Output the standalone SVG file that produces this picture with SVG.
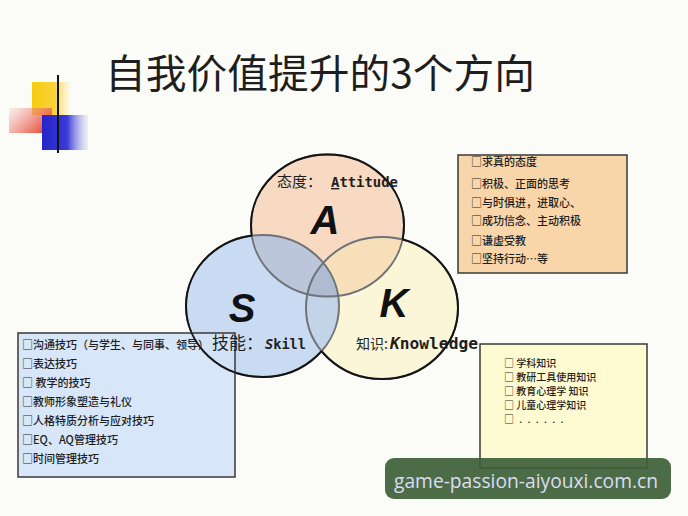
<svg xmlns="http://www.w3.org/2000/svg" width="688" height="516" viewBox="0 0 688 516">
<defs>
<linearGradient id="gY" x1="0" y1="0" x2="1" y2="0"><stop offset="0" stop-color="#f7cc10"/><stop offset="0.6" stop-color="#f9d23a"/><stop offset="1" stop-color="#fce9a0" stop-opacity="0.2"/></linearGradient>
<linearGradient id="gR" x1="0" y1="0" x2="1" y2="0.6"><stop offset="0" stop-color="#f3a0a0" stop-opacity="0.15"/><stop offset="0.6" stop-color="#ec7a6c" stop-opacity="0.75"/><stop offset="1" stop-color="#e8503a"/></linearGradient>
<linearGradient id="gB" x1="0" y1="0" x2="1" y2="0"><stop offset="0" stop-color="#2424c8"/><stop offset="0.55" stop-color="#3a3ad8"/><stop offset="1" stop-color="#b8b8f0" stop-opacity="0.2"/></linearGradient>
<linearGradient id="gL" x1="0" y1="0" x2="1" y2="0"><stop offset="0" stop-color="#111"/><stop offset="0.3" stop-color="#555"/><stop offset="0.8" stop-color="#b8bcc4"/><stop offset="0.92" stop-color="#f0c8c8"/><stop offset="1" stop-color="#fafafa" stop-opacity="0"/></linearGradient>
<clipPath id="cA"><ellipse cx="327.5" cy="225.5" rx="76.5" ry="71"/></clipPath>
<clipPath id="cS"><ellipse cx="262.5" cy="306" rx="76.5" ry="71"/></clipPath>
<clipPath id="cK"><ellipse cx="382" cy="308" rx="76" ry="71"/></clipPath>
<clipPath id="cBox"><rect x="18" y="333" width="217" height="144"/></clipPath>
<mask id="mA" maskUnits="userSpaceOnUse" x="0" y="0" width="688" height="516"><rect width="688" height="516" fill="#fff"/><ellipse cx="262.5" cy="306" rx="76.5" ry="71" fill="#000"/><ellipse cx="382" cy="308" rx="76" ry="71" fill="#000"/></mask>
<mask id="mS" maskUnits="userSpaceOnUse" x="0" y="0" width="688" height="516"><rect width="688" height="516" fill="#fff"/><ellipse cx="327.5" cy="225.5" rx="76.5" ry="71" fill="#000"/><ellipse cx="382" cy="308" rx="76" ry="71" fill="#000"/></mask>
<mask id="mK" maskUnits="userSpaceOnUse" x="0" y="0" width="688" height="516"><rect width="688" height="516" fill="#fff"/><ellipse cx="327.5" cy="225.5" rx="76.5" ry="71" fill="#000"/><ellipse cx="262.5" cy="306" rx="76.5" ry="71" fill="#000"/></mask>
</defs>
<style>
.cjk{font-family:"Noto Sans CJK SC","Noto Sans",sans-serif;fill:#1e1e1e}
.item{font-size:11px;font-weight:500}
.small{font-size:10px;font-weight:500}
.big{font-family:"Liberation Sans",Arial,sans-serif;font-weight:bold;font-style:italic;font-size:40px;fill:#111;text-anchor:middle}
.mono{font-family:"DejaVu Sans Mono","Liberation Mono",monospace;font-weight:bold;fill:#1e1e1e}
.box{stroke:#3a3a3a;stroke-width:1.5}
.inner{fill:none;stroke:#6f7378;stroke-width:2}
.outer{fill:none;stroke:#141414;stroke-width:2}
</style>
<rect width="688" height="516" fill="#fbfcf7"/>

<g id="decoration">
<rect x="32" y="82" width="38" height="33" fill="url(#gY)"/>
<rect x="9" y="108" width="43" height="25" fill="url(#gR)"/>
<rect x="42" y="115" width="46" height="35" fill="url(#gB)"/>
<line x1="33" y1="135" x2="570" y2="135" stroke="url(#gL)" stroke-width="2.5"/>
<line x1="58" y1="75" x2="58" y2="153" stroke="#111" stroke-width="2"/>
</g>

<g id="title">
<text class="cjk" x="105" y="88" font-size="40" textLength="430" lengthAdjust="spacingAndGlyphs">自我价值提升的3个方向</text>
</g>

<g id="venn">
<ellipse cx="382" cy="308" rx="76" ry="71" fill="#fcf6d8"/>
<ellipse cx="262.5" cy="306" rx="76.5" ry="71" fill="#c8dbf3"/>
<ellipse cx="327.5" cy="225.5" rx="76.5" ry="71" fill="#f8dac3"/>
<g clip-path="url(#cA)"><ellipse cx="382" cy="308" rx="76" ry="71" fill="#f7dfba"/></g>
<g clip-path="url(#cA)"><ellipse cx="262.5" cy="306" rx="76.5" ry="71" fill="#bcc6da"/></g>
<g clip-path="url(#cK)"><ellipse cx="262.5" cy="306" rx="76.5" ry="71" fill="#c3d4e9"/></g>
<g clip-path="url(#cA)"><g clip-path="url(#cK)"><ellipse cx="262.5" cy="306" rx="76.5" ry="71" fill="#aebbd1"/></g></g>
<ellipse class="inner" cx="327.5" cy="225.5" rx="76.5" ry="71"/>
<ellipse class="inner" cx="262.5" cy="306" rx="76.5" ry="71"/>
<ellipse class="inner" cx="382" cy="308" rx="76" ry="71"/>
<ellipse class="outer" cx="327.5" cy="225.5" rx="76.5" ry="71" mask="url(#mA)"/>
<ellipse class="outer" cx="262.5" cy="306" rx="76.5" ry="71" mask="url(#mS)"/>
<ellipse class="outer" cx="382" cy="308" rx="76" ry="71" mask="url(#mK)"/>
</g>

<g id="box-skill">
<rect class="box" x="18" y="333" width="217" height="144" fill="#d3e3f8" fill-opacity="0.9"/>
<ellipse class="outer" cx="262.5" cy="306" rx="76.5" ry="71" clip-path="url(#cBox)"/>
<text class="cjk item" x="22" y="349">□沟通技巧（与学生、与同事、领导）</text>
<text class="cjk item" x="22" y="368">□表达技巧</text>
<text class="cjk item" x="22" y="387">□ 教学的技巧</text>
<text class="cjk item" x="22" y="406">□教师形象塑造与礼仪</text>
<text class="cjk item" x="22" y="425">□人格特质分析与应对技巧</text>
<text class="cjk item" x="22" y="444">□EQ、AQ管理技巧</text>
<text class="cjk item" x="22" y="463">□时间管理技巧</text>
</g>

<g id="node-A">
<text class="big" x="325" y="234">A</text>
<text class="cjk" x="277" y="187" font-size="15">态度：</text>
<text class="mono" x="331" y="187" font-size="14" textLength="67" lengthAdjust="spacingAndGlyphs"><tspan text-decoration="underline">A</tspan>ttitude</text>
</g>

<g id="node-S">
<text class="big" x="242" y="322">S</text>
<text class="cjk" x="212" y="349" font-size="17">技能：</text>
<text class="mono" x="265" y="349" font-size="14" textLength="41" lengthAdjust="spacingAndGlyphs"><tspan font-style="italic">S</tspan>kill</text>
</g>

<g id="node-K">
<text class="big" x="394" y="317">K</text>
<text class="cjk" x="356" y="349" font-size="14">知识:</text>
<text class="mono" x="390" y="349" font-size="15" textLength="88" lengthAdjust="spacingAndGlyphs"><tspan font-style="italic">K</tspan>nowledge</text>
</g>

<g id="box-attitude">
<rect class="box" x="458" y="155" width="169" height="118" fill="#f9d6a9"/>
<text class="cjk item" x="471" y="166">□求真的态度</text>
<text class="cjk item" x="471" y="188">□积极、正面的思考</text>
<text class="cjk item" x="471" y="207">□与时俱进，进取心、</text>
<text class="cjk item" x="471" y="225">□成功信念、主动积极</text>
<text class="cjk item" x="471" y="245">□谦虚受教</text>
<text class="cjk item" x="471" y="263">□坚持行动…等</text>
</g>

<g id="box-knowledge">
<rect class="box" x="480" y="344" width="167" height="124" fill="#fefbd3"/>
<text class="cjk small" x="504" y="367">□ 学科知识</text>
<text class="cjk small" x="504" y="381">□ 教研工具使用知识</text>
<text class="cjk small" x="504" y="395">□ 教育心理学 知识</text>
<text class="cjk small" x="504" y="409">□ 儿童心理学知识</text>
<text class="cjk small" x="504" y="423" letter-spacing="1.5">□ . . . . . .</text>
</g>

<g id="watermark">
<rect x="385" y="458" width="286" height="41" rx="9" fill="#3d5f38" fill-opacity="0.92"/>
<text x="394" y="488" font-family="Open Sans,'Noto Sans',sans-serif" font-size="20" fill="#dcdcf2" textLength="264" lengthAdjust="spacingAndGlyphs">game-passion-aiyouxi.com.cn</text>
</g>
</svg>
